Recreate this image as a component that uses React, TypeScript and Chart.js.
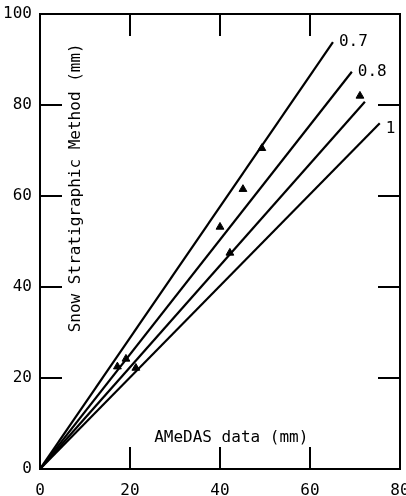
import React, { useEffect, useRef } from "react";
import { Chart, registerables } from "chart.js";

Chart.register(...registerables);

// Observed points (AMeDAS vs Snow Stratigraphic Method)
const pointX = [17.2, 19.1, 21.3, 40.0, 42.2, 45.1, 49.3, 71.1];
const pointY = [22.5, 24.2, 22.2, 53.2, 47.5, 61.5, 70.5, 82.0];

// Reference lines from origin (ratio labels), end points
const lineLabels = ["0.7", "0.8", "", "1"];
const lineEndX = [65.1, 69.3, 72.2, 75.5];
const lineEndY = [93.8, 87.3, 80.7, 76.0];

const xTicks = [0, 20, 40, 60, 80];
const yTicks = [0, 20, 40, 60, 80, 100];

const xTitle = "AMeDAS data (mm)";
const yTitle = "Snow Stratigraphic Method (mm)";

const FONT = "DejaVu Sans Mono";

const framePlugin = {
  id: "frame",
  afterDraw(chart: any) {
    const { ctx, chartArea, scales } = chart;
    const { left, right, top, bottom } = chartArea;
    ctx.save();
    ctx.strokeStyle = "#000";
    ctx.lineWidth = 2;
    ctx.strokeRect(left, top, right - left, bottom - top);
    const tl = 22;
    ctx.lineWidth = 2;
    ctx.beginPath();
    xTicks.forEach((v) => {
      const px = scales.x.getPixelForValue(v);
      ctx.moveTo(px, bottom);
      ctx.lineTo(px, bottom - tl);
      ctx.moveTo(px, top);
      ctx.lineTo(px, top + tl);
    });
    yTicks.forEach((v) => {
      const py = scales.y.getPixelForValue(v);
      ctx.moveTo(left, py);
      ctx.lineTo(left + tl, py);
      ctx.moveTo(right, py);
      ctx.lineTo(right - tl, py);
    });
    ctx.stroke();

    ctx.fillStyle = "#000";
    ctx.font = `16px "${FONT}"`;
    // line labels
    ctx.textAlign = "left";
    ctx.textBaseline = "middle";
    lineLabels.forEach((lab, i) => {
      if (!lab) return;
      const px = scales.x.getPixelForValue(lineEndX[i]);
      const py = scales.y.getPixelForValue(lineEndY[i]);
      ctx.fillText(lab, px + 6, py + (i === 3 ? 6 : 0));
    });
    // axis titles inside plot
    ctx.textAlign = "center";
    ctx.fillText(xTitle, scales.x.getPixelForValue(42.5), scales.y.getPixelForValue(6.8));
    ctx.save();
    ctx.translate(scales.x.getPixelForValue(8.0), scales.y.getPixelForValue(61.8));
    ctx.rotate(-Math.PI / 2);
    ctx.fillText(yTitle, 0, 0);
    ctx.restore();
    ctx.restore();
  },
};

export default function App() {
  const ref = useRef<HTMLCanvasElement>(null);
  useEffect(() => {
    document.body.style.margin = "0";
    const datasets: any[] = lineEndX.map((ex, i) => ({
      type: "line",
      data: [
        { x: 0, y: 0 },
        { x: ex, y: lineEndY[i] },
      ],
      borderColor: "#000",
      borderWidth: 2.2,
      pointRadius: 0,
      showLine: true,
    }));
    datasets.push({
      type: "scatter",
      data: pointX.map((x, i) => ({ x, y: pointY[i] })),
      pointStyle: "triangle",
      pointRadius: 4.5,
      backgroundColor: "#000",
      borderColor: "#000",
    });
    const chart = new Chart(ref.current!, {
      type: "scatter",
      data: { datasets },
      plugins: [framePlugin],
      options: {
        animation: false,
        responsive: true,
        maintainAspectRatio: false,
        layout: { padding: { left: 0, right: 6, top: 14, bottom: 0 } },
        plugins: { legend: { display: false }, tooltip: { enabled: false } },
        scales: {
          x: {
            type: "linear",
            min: 0,
            max: 80,
            afterBuildTicks: (s: any) => {
              s.ticks = xTicks.map((v) => ({ value: v }));
            },
            afterFit: (s: any) => {
              s.height = 27;
              s.paddingLeft = 0;
              s.paddingRight = 0;
            },
            grid: { display: false, drawTicks: false },
            border: { display: false },
            ticks: {
              color: "#000",
              padding: 12,
              maxRotation: 0,
              font: { family: FONT, size: 16 },
            },
          },
          y: {
            type: "linear",
            min: 0,
            max: 100,
            afterBuildTicks: (s: any) => {
              s.ticks = yTicks.map((v) => ({ value: v }));
            },
            afterFit: (s: any) => {
              s.width = 40;
              s.paddingTop = 0;
              s.paddingBottom = 0;
            },
            grid: { display: false, drawTicks: false },
            border: { display: false },
            ticks: {
              color: "#000",
              padding: 8,
              font: { family: FONT, size: 16 },
            },
          },
        },
      },
    } as any);
    return () => chart.destroy();
  }, []);
  return (
    <div style={{ width: 406, height: 496, position: "relative", background: "#fff" }}>
      <canvas ref={ref} />
    </div>
  );
}
